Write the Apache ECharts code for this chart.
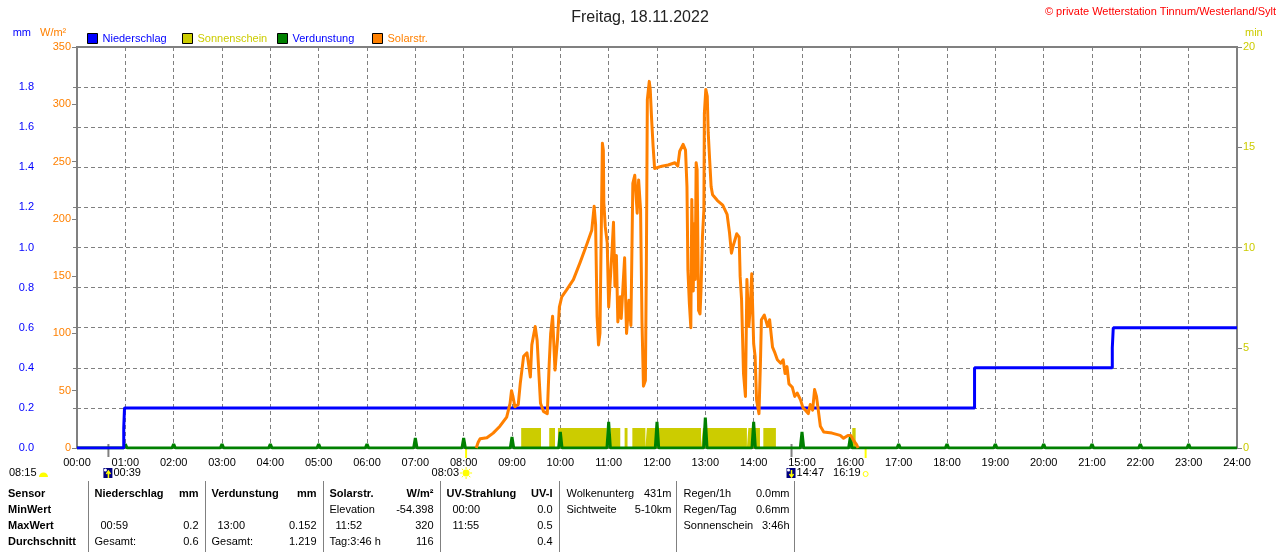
<!DOCTYPE html>
<html>
<head>
<meta charset="utf-8">
<script src="https://cdn.jsdelivr.net/npm/echarts@6/dist/echarts.min.js"></script>
<style>
  html, body { margin: 0; padding: 0; background: #fff; }
  #chart { width: 1280px; height: 552px; }
</style>
</head>
<body>
<div id="chart"></div>
<script>
// Tagesgrafik Wetterstation: Niederschlag / Sonnenschein / Verdunstung / Solarstrahlung

const FONT = '"Liberation Sans", Arial, sans-serif';
const BLUE = '#0000ff', ORANGE = '#ff8000', YELLOW = '#cccc00', GREEN = '#008000', GRAY = '#808080';

// --- data ---------------------------------------------------------------

// Solar radiation (W/m²), time in decimal hours
const solarHours = [
  8.26, 8.30, 8.34, 8.48, 8.61, 8.75, 8.89, 8.96, 8.99, 9.02, 9.06, 9.13, 9.17, 9.24, 9.31,
  9.38, 9.41, 9.48, 9.52, 9.56, 9.59, 9.65, 9.73, 9.77, 9.80, 9.84, 9.89, 9.94, 9.98, 10.03,
  10.13, 10.27, 10.41, 10.55, 10.65, 10.70, 10.73, 10.76, 10.79, 10.82, 10.87, 10.89, 10.90, 10.93, 10.97,
  11.00, 11.04, 11.07, 11.10, 11.13, 11.16, 11.19, 11.24, 11.26, 11.30, 11.33, 11.37, 11.42, 11.46, 11.50,
  11.54, 11.59, 11.62, 11.66, 11.69, 11.72, 11.76, 11.78, 11.80, 11.84, 11.86, 11.89, 11.92, 11.95, 11.99,
  12.10, 12.23, 12.37, 12.43, 12.47, 12.54, 12.59, 12.62, 12.64, 12.67, 12.70, 12.72, 12.75, 12.77, 12.79,
  12.81, 12.83, 12.86, 12.89, 12.91, 12.94, 12.97, 12.98, 13.01, 13.04, 13.06, 13.09, 13.12, 13.15, 13.25,
  13.36, 13.45, 13.50, 13.54, 13.58, 13.65, 13.70, 13.72, 13.75, 13.79, 13.83, 13.86, 13.90, 13.93, 13.96,
  14.00, 14.03, 14.06, 14.11, 14.14, 14.16, 14.22, 14.29, 14.33, 14.39, 14.44, 14.49, 14.56, 14.61, 14.65,
  14.69, 14.73, 14.80, 14.85, 14.90, 14.97, 15.02, 15.07, 15.13, 15.17, 15.22, 15.26, 15.30, 15.34, 15.38,
  15.45, 15.62, 15.79, 15.86, 15.95, 16.01, 16.06, 16.13, 16.16
];
const solarWm2 = [
  0, 5, 8, 9, 13, 19, 27, 39, 50, 45, 36, 38, 56, 80, 83,
  62, 90, 106, 94, 62, 39, 32, 30, 74, 100, 115, 68, 94, 123, 132,
  138, 147, 162, 178, 190, 211, 195, 115, 90, 100, 266, 260, 214, 193, 179,
  123, 123, 173, 197, 141, 168, 110, 132, 113, 144, 166, 100, 129, 107, 231,
  238, 205, 234, 208, 109, 54, 59, 161, 304, 320, 313, 286, 263, 244, 243,
  246, 247, 249, 246, 259, 265, 260, 228, 155, 126, 105, 217, 137, 196, 147,
  249, 243, 120, 117, 137, 184, 208, 292, 313, 307, 275, 251, 228, 221, 216,
  212, 204, 188, 170, 177, 187, 184, 150, 129, 65, 45, 147, 106, 123, 152,
  91, 80, 42, 30, 74, 112, 116, 106, 112, 88, 83, 77, 74, 77, 65,
  71, 56, 53, 45, 48, 42, 35, 33, 30, 38, 33, 51, 45, 32, 19,
  14, 13, 11, 8.5, 11, 11, 7, 3, 0
];

// Cumulative precipitation (mm); each value holds until the next time
const rainHours = [0, 0.967, 0.983, 18.57, 21.42, 21.44, 24];
const rainMm    = [0, 0.1,   0.2,   0.4,   0.5,   0.6,   0.6];

// Hourly evaporation (mm) at each full hour
const evapHours = [1, 2, 3, 4, 5, 6, 7, 8, 9, 10, 11, 12, 13, 14, 15, 16, 17, 18, 19, 20, 21, 22, 23];
const evapMm    = [0.02, 0.02, 0.02, 0.02, 0.02, 0.02, 0.05, 0.05, 0.055, 0.08, 0.13, 0.13, 0.152,
                   0.13, 0.08, 0.055, 0.02, 0.02, 0.02, 0.02, 0.02, 0.02, 0.02];

// Sunshine periods (decimal hours) and minutes of sun per minute
const sunStart = [9.19, 9.77, 9.95, 11.04, 11.33, 11.49, 11.79, 12.95, 13.89, 14.20, 16.04];
const sunEnd   = [9.60, 9.89, 10.96, 11.24, 11.39, 11.76, 12.91, 13.86, 14.13, 14.46, 16.11];
const sunMin   = [1, 1, 1, 1, 1, 1, 1, 1, 1, 1, 1];

// Sun / moon events shown under the time axis
const astroTimes = ['00:39', '08:03', '14:47', '16:19'];
const astroKinds = ['moonrise', 'sunrise', 'moonset', 'sunset'];

// Legend
const legendNames  = ['Niederschlag', 'Sonnenschein', 'Verdunstung', 'Solarstr.'];
const legendColors = [BLUE, YELLOW, GREEN, ORANGE];
const legendText   = [BLUE, YELLOW, BLUE, ORANGE];

// Summary table
const tableRowLabels = ['Sensor', 'MinWert', 'MaxWert', 'Durchschnitt'];
const tableCols = [
  { head: 'Niederschlag', unit: 'mm',   left: ['', '00:59', 'Gesamt:'],      right: ['', '0.2', '0.6'] },
  { head: 'Verdunstung',  unit: 'mm',   left: ['', '13:00', 'Gesamt:'],      right: ['', '0.152', '1.219'] },
  { head: 'Solarstr.',    unit: 'W/m²', left: ['Elevation', '11:52', 'Tag:3:46 h'], right: ['-54.398', '320', '116'] },
  { head: 'UV-Strahlung', unit: 'UV-I', left: ['00:00', '11:55', ''],         right: ['0.0', '0.5', '0.4'] }
];
const infoLeft  = [['Wolkenunterg', 'Sichtweite'], ['Regen/1h', 'Regen/Tag', 'Sonnenschein']];
const infoRight = [['431m', '5-10km'], ['0.0mm', '0.6mm', '3:46h']];

// --- helpers ------------------------------------------------------------

const pad = n => String(n).padStart(2, '0');
const toHours = s => { const [h, m] = s.split(':').map(Number); return h + m / 60; };

function txt(x, y, text, o = {}) {
  return {
    type: 'text', x, y, silent: true,
    style: {
      text, fill: o.color || '#000', font: `${o.bold ? 'bold ' : ''}${o.size || 11}px ${FONT}`,
      textAlign: o.align || 'left', textVerticalAlign: 'middle'
    }
  };
}
function vline(x, y1, y2, color, w) {
  return { type: 'line', silent: true, shape: { x1: x, y1, x2: x, y2 }, style: { stroke: color, lineWidth: w || 1 } };
}

// --- series data --------------------------------------------------------

const solarData = solarHours.map((h, i) => [h, solarWm2[i]]);
const rainData = rainHours.map((h, i) => [h, rainMm[i]]);
// each hourly value as a narrow spike on the zero line
const evapData = [[0, 0]];
evapHours.forEach((h, i) => { evapData.push([h - 0.035, 0], [h, evapMm[i]], [h + 0.035, 0]); });
evapData.push([24, 0]);
// sunshine periods as closed blocks on the zero line
const sunData = [[0, 0]];
sunStart.forEach((s, i) => { sunData.push([s, 0], [s, sunMin[i]], [sunEnd[i], sunMin[i]], [sunEnd[i], 0]); });
sunData.push([24, 0]);

const axisFont = { fontFamily: FONT, fontSize: 11 };
const dashed = { show: true, lineStyle: { color: GRAY, type: [4, 3], width: 1 } };

const legends = legendNames.map((n, i) => ({
  left: 87 + i * 95, top: 33, itemWidth: 10, itemHeight: 10, icon: 'rect',
  selectedMode: false, padding: 0,
  textStyle: { fontFamily: FONT, fontSize: 11, color: legendText[i] },
  data: [{ name: n, itemStyle: { color: legendColors[i], borderColor: '#000', borderWidth: 1 } }]
}));

const option = {
  animation: false,
  backgroundColor: '#fff',
  textStyle: { fontFamily: FONT },
  title: {
    text: 'Freitag, 18.11.2022', left: 'center', top: 5,
    textStyle: { fontFamily: FONT, fontSize: 16, fontWeight: 'normal', color: '#222' }
  },
  legend: legends,
  grid: { left: 77, right: 43, top: 47, bottom: 104, show: true, borderColor: GRAY, borderWidth: 2, backgroundColor: '#fff' },
  xAxis: {
    type: 'value', min: 0, max: 24, interval: 1,
    axisLine: { show: false }, axisTick: { show: false },
    axisLabel: { ...axisFont, color: '#000', margin: 9, formatter: v => pad(v) + ':00' },
    splitLine: dashed
  },
  yAxis: [
    {
      type: 'value', position: 'left', offset: 37, min: 0, max: 2, interval: 0.2,
      axisLine: { show: true, lineStyle: { color: GRAY, width: 1 } },
      axisTick: { show: true, length: 4, lineStyle: { color: GRAY } },
      axisLabel: { ...axisFont, color: BLUE, margin: 6, formatter: v => (v >= 1.99 ? '' : v.toFixed(1)) },
      splitLine: dashed
    },
    {
      type: 'value', position: 'left', offset: 0, min: 0, max: 350, interval: 50,
      axisLine: { show: true, lineStyle: { color: GRAY, width: 2 } },
      axisTick: { show: true, length: 5, lineStyle: { color: GRAY } },
      axisLabel: { ...axisFont, color: ORANGE, margin: 6 },
      splitLine: { show: false }
    },
    {
      type: 'value', position: 'right', offset: 0, min: 0, max: 20, interval: 5,
      axisLine: { show: true, lineStyle: { color: GRAY, width: 2 } },
      axisTick: { show: true, length: 5, lineStyle: { color: GRAY } },
      axisLabel: { ...axisFont, color: YELLOW, margin: 6 },
      splitLine: { show: false }
    }
  ],
  series: [
    {
      name: 'Sonnenschein', type: 'line', yAxisIndex: 2, z: 2,
      showSymbol: false, lineStyle: { width: 0 }, itemStyle: { color: YELLOW },
      areaStyle: { color: YELLOW, opacity: 1 },
      data: sunData
    },
    {
      name: 'Verdunstung', type: 'line', yAxisIndex: 0, z: 3,
      showSymbol: false, lineStyle: { color: GREEN, width: 3 }, itemStyle: { color: GREEN },
      data: evapData
    },
    {
      name: 'Niederschlag', type: 'line', yAxisIndex: 0, z: 4, step: 'end',
      showSymbol: false, lineStyle: { color: BLUE, width: 3 }, itemStyle: { color: BLUE },
      data: rainData
    },
    {
      name: 'Solarstr.', type: 'line', yAxisIndex: 1, z: 5,
      showSymbol: false, lineStyle: { color: ORANGE, width: 3, join: 'round' }, itemStyle: { color: ORANGE },
      data: solarData
    }
  ]
};

const chart = echarts.init(document.getElementById('chart'), null, { renderer: 'canvas' });
chart.setOption(option);

// --- annotations: axis units, copyright, astro events, summary table ----

const g = [];
g.push(txt(31, 33, 'mm', { color: BLUE, align: 'right' }));
g.push(txt(40, 33, 'W/m²', { color: ORANGE }));
g.push(txt(1245, 33, 'min', { color: YELLOW }));
g.push(txt(1276, 12, '© private Wetterstation Tinnum/Westerland/Sylt', { color: '#ff0000', align: 'right' }));

// left: time with half sun
g.push(txt(9, 473, '08:15'));
g.push({ type: 'sector', silent: true, shape: { cx: 43.5, cy: 477, r0: 0, r: 4.5, startAngle: Math.PI, endAngle: 2 * Math.PI }, style: { fill: '#ffff00' } });

astroTimes.forEach((t, i) => {
  const x = chart.convertToPixel({ xAxisIndex: 0 }, toHours(t));
  const kind = astroKinds[i];
  if (kind.startsWith('moon')) {
    g.push(vline(x, 444, 457, GRAY, 2));
    g.push({ type: 'rect', silent: true, shape: { x: x - 5, y: 468, width: 9, height: 10 }, style: { fill: '#000080' } });
    g.push({ type: 'circle', silent: true, shape: { cx: x - 3, cy: 470, r: 1.5 }, style: { fill: '#fff' } });
    const up = kind === 'moonrise';
    g.push({
      type: 'polyline', silent: true,
      shape: { points: up ? [[x - 2, 474], [x, 471], [x + 2, 474]] : [[x - 2, 474], [x, 477], [x + 2, 474]] },
      style: { stroke: '#ffff00', lineWidth: 1.5, fill: null }
    });
    g.push(vline(x, up ? 472 : 470, up ? 478 : 476, '#ffff00', 1.5));
    g.push(txt(x + 5, 473, t));
  } else {
    g.push(vline(x, 447, 458, '#ffff00', 2));
    if (kind === 'sunrise') {
      g.push({ type: 'circle', silent: true, shape: { cx: x, cy: 473, r: 3.5 }, style: { fill: '#ffff00' } });
      for (let k = 0; k < 8; k++) {
        const a = k * Math.PI / 4;
        g.push({ type: 'line', silent: true, shape: { x1: x + Math.cos(a) * 4, y1: 473 + Math.sin(a) * 4, x2: x + Math.cos(a) * 6, y2: 473 + Math.sin(a) * 6 }, style: { stroke: '#ffff00', lineWidth: 1 } });
      }
      g.push(txt(x - 7, 473, t, { align: 'right' }));
    } else {
      g.push({ type: 'circle', silent: true, shape: { cx: x, cy: 474, r: 2.5 }, style: { fill: '#fff', stroke: '#ffff00', lineWidth: 1 } });
      g.push(txt(x - 5, 473, t, { align: 'right' }));
    }
  }
});

// summary table
const rowY = [494, 510, 526, 542];
const sepX = [88.5, 205.5, 323.5, 440.5, 559.5, 676.5, 794.5];
sepX.forEach(x => g.push(vline(x, 481, 552, GRAY, 1)));
tableRowLabels.forEach((s, r) => g.push(txt(8, rowY[r], s, { bold: true })));
tableCols.forEach((c, i) => {
  const x0 = sepX[i] + 6, x1 = sepX[i + 1] - 7;
  g.push(txt(x0, rowY[0], c.head, { bold: true }));
  g.push(txt(x1, rowY[0], c.unit, { bold: true, align: 'right' }));
  for (let r = 0; r < 3; r++) {
    const l = c.left[r];
    const indent = /^\d\d:\d\d$/.test(l) ? 6 : 0;
    if (l) g.push(txt(x0 + indent, rowY[r + 1], l));
    if (c.right[r]) g.push(txt(x1, rowY[r + 1], c.right[r], { align: 'right' }));
  }
});
infoLeft.forEach((col, i) => {
  const x0 = sepX[5 + i - 1] + 7, x1 = sepX[5 + i] - 5;
  col.forEach((s, r) => {
    g.push(txt(x0, rowY[r], s));
    g.push(txt(x1, rowY[r], infoRight[i][r], { align: 'right' }));
  });
});

chart.setOption({ graphic: { elements: g } });
</script>
</body>
</html>
